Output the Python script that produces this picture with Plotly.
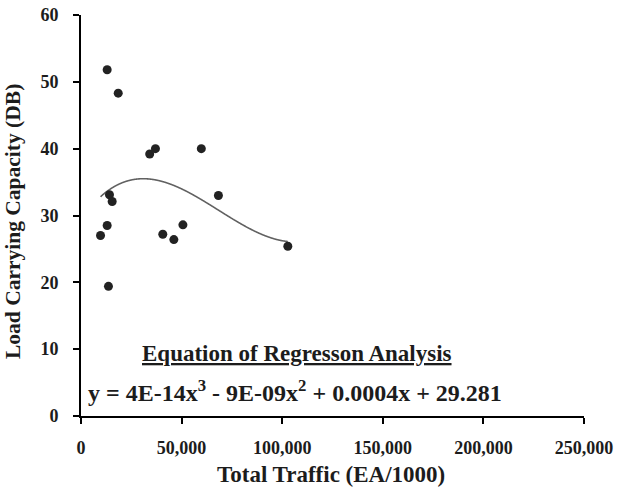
import numpy as np
import plotly.graph_objects as go

# Total traffic (EA/1000) and load carrying capacity (DB) per section
traffic = [13000, 18500, 34150, 37000, 59800, 68300, 14150, 15500,
           13000, 50650, 9700, 40650, 46150, 13650, 102800]
capacity = [51.8, 48.3, 39.2, 40.0, 40.0, 33.0, 33.1, 32.1,
            28.5, 28.6, 27.0, 27.2, 26.4, 19.4, 25.4]

x_ticks = [0, 50000, 100000, 150000, 200000, 250000]
y_ticks = [0, 10, 20, 30, 40, 50, 60]

x_title = "Total Traffic (EA/1000)"
y_title = "Load Carrying Capacity (DB)"
heading = "Equation of Regresson Analysis"
equation = "y = 4E-14x<sup>3</sup> - 9E-09x<sup>2</sup> + 0.0004x + 29.281"

# Third-order polynomial trend through the measured points
coef = np.polyfit(traffic, capacity, 3)
xs = np.linspace(min(traffic), max(traffic), 400)
ys = np.polyval(coef, xs)

FONT = "Liberation Serif"
INK = "#1c1c1c"

fig = go.Figure()
fig.add_trace(go.Scatter(
    x=xs, y=ys, mode="lines",
    line=dict(color="#616161", width=1.6, shape="spline"),
    hoverinfo="skip", showlegend=False,
))
fig.add_trace(go.Scatter(
    x=traffic, y=capacity, mode="markers",
    marker=dict(color="#222222", size=9),
    showlegend=False,
))

axis_common = dict(
    showgrid=False, zeroline=False, showline=True, automargin=False,
    linecolor="black", linewidth=2,
    ticks="outside", ticklen=6, tickwidth=2, tickcolor="black",
    tickfont=dict(family=FONT, size=18, color=INK, weight="bold"),
)

fig.update_xaxes(range=[0, 250000], tickvals=x_ticks, tickformat=",",
                 ticklabelstandoff=8, **axis_common)
fig.update_yaxes(range=[0, 60], tickvals=y_ticks,
                 ticklabelstandoff=11, **axis_common)

# Axis titles
fig.add_annotation(
    x=0.4965, y=-0.147, xref="paper", yref="paper",
    xanchor="center", yanchor="middle",
    text="<b>" + x_title + "</b>", showarrow=False,
    font=dict(family=FONT, size=23, color=INK),
)
fig.add_annotation(
    x=-0.135, y=0.484, xref="paper", yref="paper", textangle=-90,
    xanchor="center", yanchor="middle",
    text="<b>" + y_title + "</b>", showarrow=False,
    font=dict(family=FONT, size=21.5, color=INK),
)

# Regression equation box
fig.add_annotation(
    x=0.429, y=9.4, xref="paper", yref="y",
    xanchor="center", yanchor="middle",
    text="<b><u>" + heading + "</u></b>", showarrow=False,
    font=dict(family=FONT, size=23, color=INK),
)
fig.add_annotation(
    x=0.425, y=3.7, xref="paper", yref="y",
    xanchor="center", yanchor="middle",
    text="<b>" + equation + "</b>", showarrow=False,
    font=dict(family=FONT, size=24, color=INK),
)

fig.update_layout(
    width=628, height=489,
    margin=dict(l=81, r=44, t=15, b=73),
    paper_bgcolor="white", plot_bgcolor="white",
)

fig.write_html("out.html")
